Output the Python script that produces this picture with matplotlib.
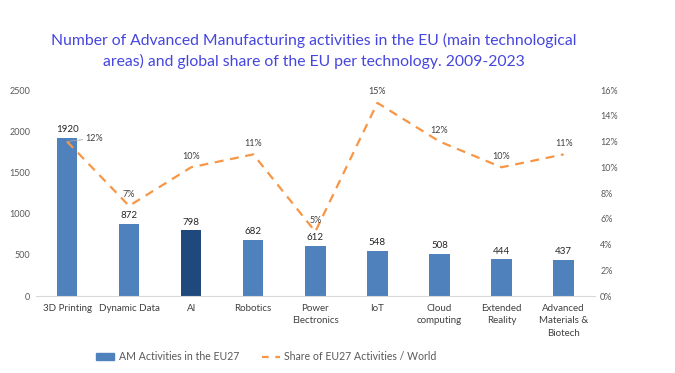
import matplotlib
matplotlib.use("Agg")
import matplotlib.pyplot as plt
from matplotlib.patches import Patch
from matplotlib.lines import Line2D

categories = ["3D Printing", "Dynamic Data", "AI", "Robotics", "Power\nElectronics",
              "IoT", "Cloud\ncomputing", "Extended\nReality", "Advanced\nMaterials &\nBiotech"]
activities = [1920, 872, 798, 682, 612, 548, 508, 444, 437]
share = [12, 7, 10, 11, 5, 15, 12, 10, 11]
left_ticks = [0, 500, 1000, 1500, 2000, 2500]
right_ticks = [0, 2, 4, 6, 8, 10, 12, 14, 16]

plt.rcParams['font.family'] = ['Lato', 'DejaVu Sans']

fig = plt.figure(figsize=(6.75, 3.73), dpi=100)
ax = fig.add_axes([0.0533, 0.2064, 0.8277, 0.5523])
x = list(range(len(categories)))
colors = ["#4F81BD"] * len(categories)
colors[2] = "#1F497D"
ax.bar(x, activities, width=0.33, color=colors, zorder=2)
ax.set_xlim(-0.5, len(categories) - 0.5)
ax.set_ylim(0, 2500)
ax.set_yticks(left_ticks)
ax.set_yticklabels([str(t) for t in left_ticks], fontsize=6.5, color="#595959")
ax.set_xticks(x)
ax.set_xticklabels(categories, fontsize=7, color="#404040", linespacing=1.45)
ax.tick_params(axis='both', length=0, pad=4)
ax.tick_params(axis='x', pad=6)
for s in ["top", "left", "right"]:
    ax.spines[s].set_visible(False)
ax.spines["bottom"].set_color("#D9D9D9")
for xi, v in zip(x, activities):
    ax.text(xi, v + 45, str(v), ha="center", va="bottom", fontsize=7, color="#262626")

ax2 = ax.twinx()
ax2.set_ylim(0, 16)
ax2.set_yticks(right_ticks)
ax2.set_yticklabels([f"{t}%" for t in right_ticks], fontsize=6.5, color="#595959")
ax2.tick_params(axis='y', length=0, pad=4)
for s in ["top", "left", "right", "bottom"]:
    ax2.spines[s].set_visible(False)
ax2.plot(x, share, color="#F79646", linestyle=(0, (4, 3)), linewidth=1.6, zorder=3)
for i, (xi, v) in enumerate(zip(x, share)):
    if i == 0:
        ax2.annotate(f"{v}%", xy=(xi, v), xytext=(xi + 0.3, v + 0.25), fontsize=6.5,
                     color="#404040", ha="left", va="center",
                     arrowprops=dict(arrowstyle="-", color="#A6A6A6", lw=0.6,
                                     shrinkA=0, shrinkB=0))
    else:
        ax2.text(xi, v + 0.5, f"{v}%", ha="center", va="bottom", fontsize=6.5, color="#404040")

fig.suptitle("Number of Advanced Manufacturing activities in the EU (main technological\nareas) and global share of the EU per technology. 2009-2023",
             x=0.465, y=0.912, fontsize=11.3, color="#4545E0", linespacing=1.5)

handles = [Patch(color="#4F81BD"),
           Line2D([0], [0], color="#F79646", linestyle=(0, (3, 3)), linewidth=1.6)]
fig.legend(handles, ["AM Activities in the EU27", "Share of EU27 Activities / World"],
           loc="center", bbox_to_anchor=(0.395, 0.043), ncol=2, frameon=False,
           fontsize=7.6, labelcolor="#595959", columnspacing=2.2, handlelength=1.7,
           handleheight=0.6, handletextpad=0.4)

fig.savefig("out.png", dpi=100)
